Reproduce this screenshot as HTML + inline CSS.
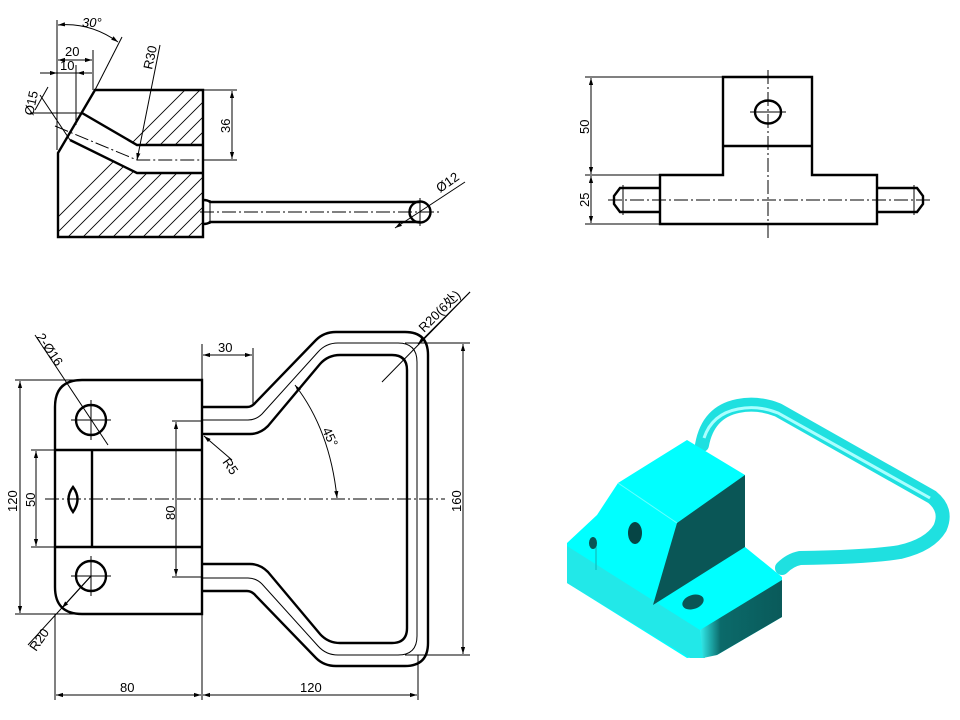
<!DOCTYPE html>
<html><head><meta charset="utf-8"><style>
html,body{margin:0;padding:0;background:#fff;}
svg{display:block;}
text{font-family:"Liberation Sans","Noto Sans CJK SC",sans-serif;font-size:13px;fill:#000;}
.k{stroke:#000;stroke-width:2.4;fill:none;}
.t{stroke:#000;stroke-width:1;fill:none;}
.c{stroke:#000;stroke-width:1;fill:none;stroke-dasharray:14 3 2 3;}
.h{stroke:#000;stroke-width:0.9;}
</style></head><body>
<svg width="960" height="720" viewBox="0 0 960 720" xmlns="http://www.w3.org/2000/svg">
<defs>
<marker id="a" viewBox="0 0 10 10" refX="10" refY="5" markerWidth="7" markerHeight="7" orient="auto-start-reverse"><path d="M0,2 L10,5 L0,8z" fill="#000"/></marker>
<clipPath id="sec"><path d="M95,90 L203,90 L203,146 L137,146 L80,113 Z M58,150 L68,140 L137,173 L203,173 L203,237 L58,237 Z"/></clipPath>
<linearGradient id="rf" x1="0" y1="0" x2="1" y2="0"><stop offset="0" stop-color="#3ee"/><stop offset="0.25" stop-color="#0b6a6a"/><stop offset="1" stop-color="#0a5a5a"/></linearGradient>
</defs>

<!-- ===== Top-left section view ===== -->
<g clip-path="url(#sec)">
<g class="h">
<line x1="0" y1="290" x2="240" y2="50"/><line x1="15" y1="290" x2="255" y2="50"/><line x1="30" y1="290" x2="270" y2="50"/><line x1="45" y1="290" x2="285" y2="50"/><line x1="60" y1="290" x2="300" y2="50"/><line x1="75" y1="290" x2="315" y2="50"/><line x1="90" y1="290" x2="330" y2="50"/><line x1="105" y1="290" x2="345" y2="50"/><line x1="120" y1="290" x2="360" y2="50"/><line x1="135" y1="290" x2="375" y2="50"/><line x1="150" y1="290" x2="390" y2="50"/><line x1="165" y1="290" x2="405" y2="50"/><line x1="180" y1="290" x2="420" y2="50"/><line x1="195" y1="290" x2="435" y2="50"/><line x1="210" y1="290" x2="450" y2="50"/><line x1="225" y1="290" x2="465" y2="50"/><line x1="240" y1="290" x2="480" y2="50"/><line x1="255" y1="290" x2="495" y2="50"/><line x1="270" y1="290" x2="510" y2="50"/><line x1="285" y1="290" x2="525" y2="50"/><line x1="300" y1="290" x2="540" y2="50"/><line x1="-15" y1="290" x2="225" y2="50"/>
</g></g>
<path class="k" d="M95,90 L203,90 L203,237 L58,237 L58,153 Z"/>
<path class="k" d="M82,113 L137,145 L203,145"/>
<path class="k" d="M70,140 L137,173 L203,173"/>
<path class="c" d="M55,126 L137,160 L235,160"/>
<!-- pin -->
<path class="k" d="M203,200 Q208,200 210,202 L420,202 M203,224 Q208,224 210,222 L420,222"/>
<line class="t" x1="210" y1="200" x2="210" y2="224"/>
<circle class="k" cx="420" cy="212" r="10.5"/>
<path class="c" d="M200,212 L440,212"/>
<line class="t" x1="420" y1="198" x2="420" y2="226"/>
<line class="t" x1="395" y1="228" x2="465" y2="182" marker-start="url(#a)"/>
<text transform="translate(440,193) rotate(-35)">Ø12</text>
<!-- 36 -->
<line class="t" x1="203" y1="90" x2="237" y2="90"/><line class="t" x1="203" y1="160" x2="237" y2="160"/>
<line class="t" x1="232" y1="91" x2="232" y2="159" marker-start="url(#a)" marker-end="url(#a)"/>
<text transform="translate(230,133) rotate(-90)">36</text>
<!-- top dims -->
<line class="t" x1="57" y1="20" x2="57" y2="150"/>
<line class="t" x1="93" y1="50" x2="93" y2="90"/>
<line class="t" x1="76" y1="65" x2="76" y2="125"/>
<line class="t" x1="58" y1="60" x2="92" y2="60" marker-start="url(#a)" marker-end="url(#a)"/>
<text x="65" y="56">20</text>
<line class="t" x1="40" y1="73" x2="92" y2="73"/>
<line class="t" x1="48" y1="73" x2="57" y2="73" marker-end="url(#a)"/><line class="t" x1="88" y1="73" x2="77" y2="73" marker-end="url(#a)"/>
<text x="60" y="70">10</text>
<line class="t" x1="95" y1="90" x2="122" y2="37"/>
<path class="t" d="M58,25 Q90,22 118,42" marker-start="url(#a)" marker-end="url(#a)"/>
<text x="82" y="27" font-style="italic">30°</text>
<line class="t" x1="137" y1="160" x2="160" y2="45" marker-start="url(#a)"/>
<text transform="translate(152,70) rotate(-78)">R30</text>
<line class="t" x1="30" y1="113" x2="82" y2="113"/>
<line class="t" x1="40" y1="95" x2="70" y2="140"/>
<line class="t" x1="35" y1="110" x2="48" y2="87"/>
<text transform="translate(33,116) rotate(-78)">Ø15</text>

<!-- ===== Top-right view ===== -->
<path class="k" d="M723,77 L812,77 L812,175 L877,175 L877,224 L660,224 L660,175 L723,175 Z"/>
<line class="k" x1="723" y1="146" x2="812" y2="146"/>
<ellipse class="k" cx="768" cy="112" rx="13" ry="11.5"/>
<line class="t" x1="750" y1="112" x2="786" y2="112"/>
<path class="c" d="M768,70 L768,238"/>
<path class="k" d="M660,188 L620,188 L614,196 L614,204 L620,212 L660,212"/>
<path class="k" d="M877,188 L917,188 L923,196 L923,204 L917,212 L877,212"/>
<line class="t" x1="623" y1="185" x2="623" y2="215"/><line class="t" x1="914" y1="185" x2="914" y2="215"/>
<path class="c" d="M608,200 L930,200"/>
<line class="t" x1="585" y1="77" x2="723" y2="77"/><line class="t" x1="585" y1="175" x2="660" y2="175"/><line class="t" x1="585" y1="224" x2="660" y2="224"/>
<line class="t" x1="591" y1="78" x2="591" y2="174" marker-start="url(#a)" marker-end="url(#a)"/>
<line class="t" x1="591" y1="176" x2="591" y2="223" marker-start="url(#a)" marker-end="url(#a)"/>
<text transform="translate(589,134) rotate(-90)">50</text>
<text transform="translate(589,207) rotate(-90)">25</text>

<!-- ===== Bottom-left plan view ===== -->
<path class="k" d="M82,380 L202,380 L202,614 L82,614 Q55,614 55,587 L55,407 Q55,380 82,380 Z"/>
<line class="k" x1="55" y1="450" x2="202" y2="450"/><line class="k" x1="55" y1="547" x2="202" y2="547"/>
<line class="k" x1="92" y1="450" x2="92" y2="547"/>
<circle class="k" cx="91" cy="420" r="15"/><circle class="k" cx="91" cy="576" r="15"/>
<line class="t" x1="71" y1="420" x2="111" y2="420"/><line class="t" x1="91" y1="400" x2="91" y2="440"/>
<line class="t" x1="71" y1="576" x2="111" y2="576"/><line class="t" x1="91" y1="556" x2="91" y2="596"/>
<path class="k" d="M73,487 Q82,499 73,512 Q64,499 73,487 Z"/>
<path class="c" d="M45,499 L445,499"/>
<!-- handle -->
<path class="k" d="M202,407 L247,407 Q252,407 256,402 L316,340 Q324,332 336,332 L405,332 Q428,332 428,355 L428,643 Q428,666 405,666 L336,666 Q324,666 316,658 L256,596 Q252,591 247,591 L202,591"/>
<path class="k" d="M202,434 L250,434 Q260,434 268,426 L320,364 Q328,355 340,355 L392,355 Q407,355 407,370 L407,628 Q407,643 392,643 L340,643 Q328,643 320,634 L268,572 Q260,564 250,564 L202,564"/>
<path class="t" d="M202,420 L248,420 Q256,420 262,414 L318,352 Q326,343 338,343 L398,343 Q417,343 417,362 L417,636 Q417,655 398,655 L338,655 Q326,655 318,646 L262,584 Q256,578 248,578 L202,578"/>
<!-- dims -->
<line class="t" x1="15" y1="380" x2="82" y2="380"/><line class="t" x1="15" y1="614" x2="82" y2="614"/>
<line class="t" x1="20" y1="381" x2="20" y2="613" marker-start="url(#a)" marker-end="url(#a)"/>
<text transform="translate(17,512) rotate(-90)">120</text>
<line class="t" x1="31" y1="450" x2="55" y2="450"/><line class="t" x1="31" y1="547" x2="55" y2="547"/>
<line class="t" x1="36" y1="451" x2="36" y2="546" marker-start="url(#a)" marker-end="url(#a)"/>
<text transform="translate(35,507) rotate(-90)">50</text>
<line class="t" x1="172" y1="421" x2="202" y2="421"/><line class="t" x1="172" y1="577" x2="202" y2="577"/>
<line class="t" x1="176" y1="422" x2="176" y2="576" marker-start="url(#a)" marker-end="url(#a)"/>
<text transform="translate(175,520) rotate(-90)">80</text>
<line class="t" x1="202" y1="344" x2="202" y2="380"/><line class="t" x1="253" y1="348" x2="253" y2="404"/>
<line class="t" x1="203" y1="355" x2="252" y2="355" marker-start="url(#a)" marker-end="url(#a)"/>
<text x="218" y="352">30</text>
<line class="t" x1="405" y1="343" x2="470" y2="343"/><line class="t" x1="405" y1="655" x2="470" y2="655"/>
<line class="t" x1="463" y1="344" x2="463" y2="654" marker-start="url(#a)" marker-end="url(#a)"/>
<text transform="translate(461,512) rotate(-90)">160</text>
<line class="t" x1="55" y1="614" x2="55" y2="700"/><line class="t" x1="202" y1="614" x2="202" y2="700"/><line class="t" x1="418" y1="655" x2="418" y2="700"/>
<line class="t" x1="56" y1="695" x2="201" y2="695" marker-start="url(#a)" marker-end="url(#a)"/>
<line class="t" x1="203" y1="695" x2="417" y2="695" marker-start="url(#a)" marker-end="url(#a)"/>
<text x="120" y="692">80</text><text x="300" y="692">120</text>
<line class="t" x1="35" y1="335" x2="108" y2="445"/>
<text transform="translate(36,337) rotate(56)">2-Ø16</text>
<line class="t" x1="91" y1="576" x2="28" y2="645"/>
<line class="t" x1="91" y1="576" x2="62" y2="608" marker-end="url(#a)"/>
<text transform="translate(36,652) rotate(-55)">R20</text>
<line class="t" x1="232" y1="460" x2="204" y2="436" marker-end="url(#a)"/>
<text transform="translate(222,462) rotate(55)">R5</text>
<path class="t" d="M295,385 Q330,430 337,498" marker-start="url(#a)" marker-end="url(#a)"/>
<text transform="translate(322,430) rotate(65)">45°</text>
<line class="t" x1="382" y1="382" x2="470" y2="292"/>
<line class="t" x1="470" y1="292" x2="418" y2="344" marker-end="url(#a)"/>
<text transform="translate(424,333) rotate(-45)" font-size="12">R20(6处)</text>

<!-- ===== Isometric view ===== -->
<g stroke="none">
<path d="M702,445 Q708,412 738,406 Q758,402 778,410 L932,497 Q948,510 940,528 Q930,545 900,552 Q870,557 800,558 Q790,560 782,568" stroke="#1fe0e0" stroke-width="14" fill="none" stroke-linejoin="round" stroke-linecap="round"/>
<path d="M704,438 Q712,414 738,409 Q758,405 778,413 L930,498" stroke="#aff" stroke-width="3" fill="none"/>
<polygon points="567,543 597,515 618,483 687,440 745,475 745,547 782,577 782,617 717,655 687,658 567,583" fill="#00ffff"/>
<polygon points="567,546 700,630 705,658 690,658 567,583" fill="#22e8e8"/>
<polygon points="700,630 782,580 782,617 717,655 703,658" fill="url(#rf)"/>
<polygon points="677,523 745,475 745,547 653,605" fill="#0a5656"/>
<line x1="618" y1="483" x2="677" y2="523" stroke="#6ff" stroke-width="1"/>
<line x1="596" y1="545" x2="596" y2="570" stroke="#10c8c8" stroke-width="1.5"/>
<ellipse cx="635" cy="533" rx="7" ry="11" fill="#064545"/>
<ellipse cx="693" cy="602" rx="11" ry="7" fill="#0a5555" transform="rotate(-18 693 602)"/>
<ellipse cx="593" cy="543" rx="4" ry="6" fill="#0a5555"/>
</g>
</svg>
</body></html>
